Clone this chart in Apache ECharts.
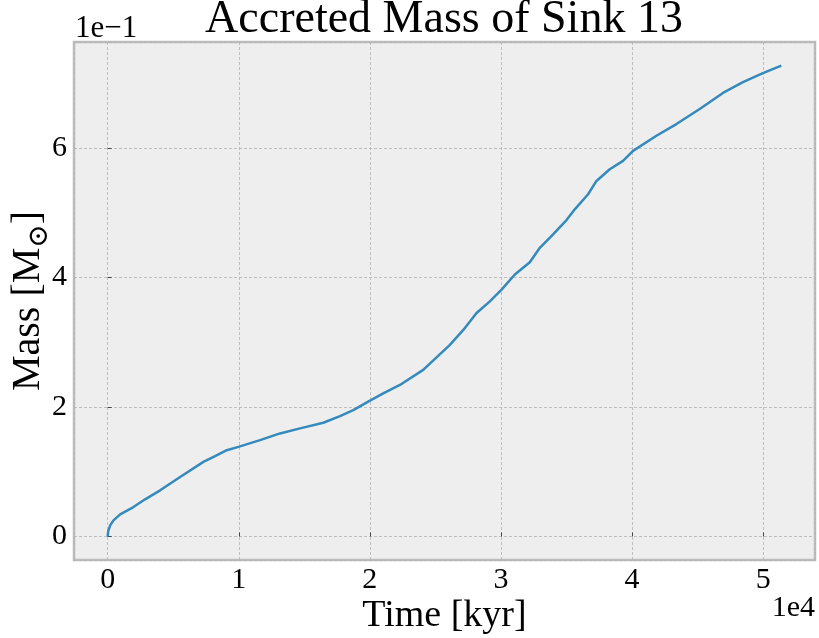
<!DOCTYPE html>
<html>
<head>
<meta charset="utf-8">
<script src="https://cdn.jsdelivr.net/npm/echarts@6/dist/echarts.min.js"></script>
<style>html,body{margin:0;padding:0;background:#fff}#c{width:819px;height:638px}</style>
</head>
<body>
<div id="c"></div>
<script>
// Time in kyr, accreted mass in solar masses
const timeKyr = [0, 38, 190, 442, 953, 1966, 2858, 4002, 5526, 7302, 8194, 9085, 9970, 11623, 13148, 14672, 16448, 17721, 18735, 20008, 21021, 22294, 24070, 26105, 27248, 28140, 29154, 30046, 31059, 32203, 32965, 33979, 35000, 35633, 36646, 37287, 38300, 39314, 40076, 41860, 43384, 45160, 46936, 48460, 49985, 51387];
const massMsun = [0, 0.0078, 0.0171, 0.0248, 0.0341, 0.0454, 0.0574, 0.0713, 0.0919, 0.1152, 0.1240, 0.1333, 0.1384, 0.1488, 0.1592, 0.1670, 0.1757, 0.1860, 0.1953, 0.2098, 0.2212, 0.2341, 0.2574, 0.2961, 0.3220, 0.3453, 0.3633, 0.3814, 0.4047, 0.4237, 0.4460, 0.4667, 0.4888, 0.5054, 0.5287, 0.5493, 0.5674, 0.5803, 0.5958, 0.6191, 0.6372, 0.6605, 0.6853, 0.7019, 0.7158, 0.7276];
const xTickScale = 1e4;
const yTickScale = 1e-1;
const titleText = 'Accreted Mass of Sink 13';
const xLabel = 'Time [kyr]';

const xMax = Math.max(...timeKyr), xMin = Math.min(...timeKyr);
const yMax = Math.max(...massMsun), yMin = Math.min(...massMsun);
const xPad = (xMax - xMin) * 0.05, yPad = (yMax - yMin) * 0.05;

const serif = '"Liberation Serif", "Times New Roman", serif';
const chart = echarts.init(document.getElementById('c'), null, {renderer: 'canvas'});
chart.setOption({
  backgroundColor: '#ffffff',
  animation: false,
  grid: {left: 74, right: 4, top: 42, bottom: 78, containLabel: false, outerBoundsMode: 'none',
    show: true, backgroundColor: '#eeeeee', borderColor: '#bcbcbc', borderWidth: 2.5},
  xAxis: {
    type: 'value', min: xMin - xPad, max: xMax + xPad, splitNumber: 5,
    axisLine: {show: false},
    axisTick: {show: true, inside: true, length: 4, lineStyle: {color: '#444', width: 1}},
    axisLabel: {showMinLabel: false, showMaxLabel: false, margin: 5, color: '#000', fontSize: 30, fontFamily: serif,
      formatter: v => String(Math.round(v / xTickScale))},
    splitLine: {show: true, lineStyle: {color: '#b2b2b2', width: 0.8, type: [3, 2]}},
    name: xLabel, nameLocation: 'middle', nameGap: 37, nameMoveOverlap: false,
    nameTextStyle: {color: '#000', fontSize: 38, fontFamily: serif}
  },
  yAxis: {
    type: 'value', min: yMin - yPad, max: yMax + yPad, splitNumber: 4,
    axisLine: {show: false},
    axisTick: {show: true, inside: true, length: 4, lineStyle: {color: '#444', width: 1}},
    axisLabel: {showMinLabel: false, showMaxLabel: false, margin: 7, color: '#000', fontSize: 30, fontFamily: serif,
      formatter: v => String(Math.round(v / yTickScale))},
    splitLine: {show: true, lineStyle: {color: '#b2b2b2', width: 0.8, type: [3, 2]}},
    name: '{a|Mass [M}{b|⊙}{a|]}', nameLocation: 'middle', nameGap: 20, nameRotate: 90, nameMoveOverlap: false,
    nameTextStyle: {color: '#000', fontSize: 40, fontFamily: serif,
      rich: {a: {fontSize: 40, fontFamily: serif, color: '#000', lineHeight: 46, verticalAlign: 'top'},
             b: {fontSize: 28, fontFamily: '"DejaVu Serif", serif', color: '#000', lineHeight: 24, verticalAlign: 'bottom'}}}
  },
  graphic: [
    {type: 'text', x: 444, y: 20, style: {text: titleText, font: '46px ' + serif, fill: '#000', textAlign: 'center', textVerticalAlign: 'middle'}, z: 10},
    {type: 'text', x: 75, y: 29, style: {text: '1e\u22121', font: '31px ' + serif, fill: '#000', textVerticalAlign: 'middle'}},
    {type: 'text', x: 815, y: 608, style: {text: '1e4', font: '30px ' + serif, fill: '#000', textAlign: 'right', textVerticalAlign: 'middle'}}
  ],
  series: [{
    type: 'line', data: timeKyr.map((t, i) => [t, massMsun[i]]),
    showSymbol: false, smooth: false,
    lineStyle: {color: '#348ABD', width: 2.5}
  }]
});
</script>
</body>
</html>
